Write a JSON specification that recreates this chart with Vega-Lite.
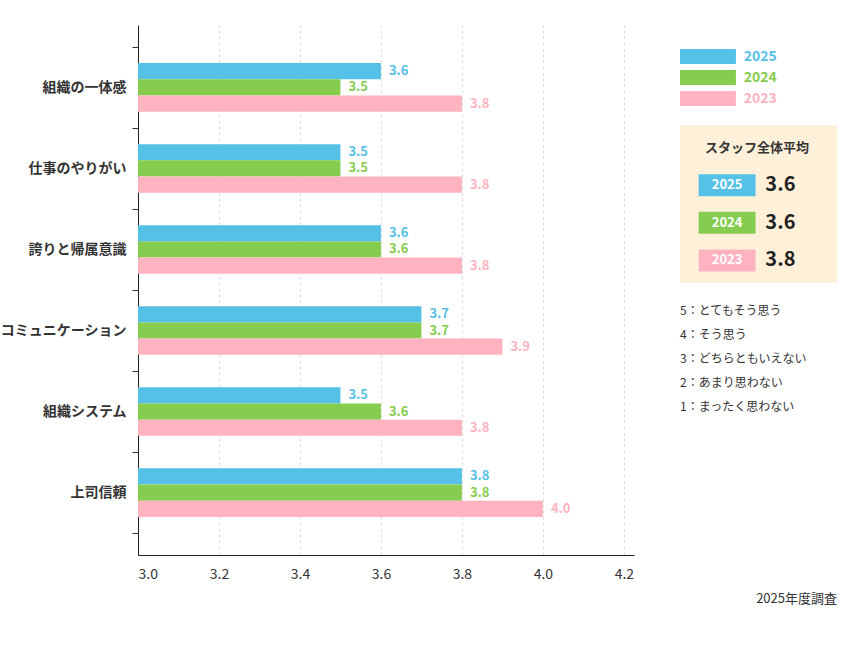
{
  "$schema": "https://vega.github.io/schema/vega-lite/v6.json",
  "padding": {"left": 0, "top": 18, "right": 0, "bottom": 8},
  "background": "white",
  "title": {"text": "2025年度調査", "orient": "bottom", "anchor": "end", "fontSize": 13, "fontWeight": "normal", "color": "#333", "offset": 12},
  "config": {
    "font": "Noto Sans CJK JP",
    "view": {"stroke": null},
    "concat": {"spacing": 46}
  },
  "datasets": {
    "scores": [
      {"item": "組織の一体感", "year": "2025", "score": 3.6},
      {"item": "組織の一体感", "year": "2024", "score": 3.5},
      {"item": "組織の一体感", "year": "2023", "score": 3.8},
      {"item": "仕事のやりがい", "year": "2025", "score": 3.5},
      {"item": "仕事のやりがい", "year": "2024", "score": 3.5},
      {"item": "仕事のやりがい", "year": "2023", "score": 3.8},
      {"item": "誇りと帰属意識", "year": "2025", "score": 3.6},
      {"item": "誇りと帰属意識", "year": "2024", "score": 3.6},
      {"item": "誇りと帰属意識", "year": "2023", "score": 3.8},
      {"item": "コミュニケーション", "year": "2025", "score": 3.7},
      {"item": "コミュニケーション", "year": "2024", "score": 3.7},
      {"item": "コミュニケーション", "year": "2023", "score": 3.9},
      {"item": "組織システム", "year": "2025", "score": 3.5},
      {"item": "組織システム", "year": "2024", "score": 3.6},
      {"item": "組織システム", "year": "2023", "score": 3.8},
      {"item": "上司信頼", "year": "2025", "score": 3.8},
      {"item": "上司信頼", "year": "2024", "score": 3.8},
      {"item": "上司信頼", "year": "2023", "score": 4.0}
    ],
    "avg": [
      {"row": "title", "year": null, "label": "スタッフ全体平均", "value": null},
      {"row": "2025", "year": "2025", "label": "2025", "value": "3.6"},
      {"row": "2024", "year": "2024", "label": "2024", "value": "3.6"},
      {"row": "2023", "year": "2023", "label": "2023", "value": "3.8"}
    ],
    "years": [{"year": "2025"}, {"year": "2024"}, {"year": "2023"}],
    "scale": [
      {"line": "5：とてもそう思う"},
      {"line": "4：そう思う"},
      {"line": "3：どちらともいえない"},
      {"line": "2：あまり思わない"},
      {"line": "1：まったく思わない"}
    ]
  },
  "hconcat": [
    {
      "width": 496,
      "height": 530,
      "data": {"name": "scores"},
      "encoding": {
        "y": {
          "field": "item", "type": "nominal", "sort": null,
          "scale": {"paddingInner": 0, "paddingOuter": 0.27},
          "axis": {"title": null, "labelFontSize": 14, "labelFontWeight": "bold", "labelColor": "#333", "tickBand": "extent", "tickColor": "#333", "tickSize": 6, "domainColor": "#222", "labelPadding": 6}
        },
        "yOffset": {"field": "year", "type": "nominal", "sort": ["2025", "2024", "2023"], "scale": {"paddingInner": 0, "paddingOuter": 1.1}},
        "x": {
          "field": "score", "type": "quantitative",
          "scale": {"domain": [3.0, 4.225], "nice": false, "zero": false},
          "axis": {"title": null, "values": [3.0, 3.2, 3.4, 3.6, 3.8, 4.0, 4.2], "format": ".1f", "labelFontSize": 14, "labelColor": "#333", "ticks": false, "labelPadding": 12, "domainColor": "#222", "grid": true, "gridDash": [3, 3], "gridColor": "#ddd"}
        },
        "color": {
          "field": "year", "type": "nominal",
          "scale": {"domain": ["2025", "2024", "2023"], "range": ["#56c1e6", "#86cc4e", "#ffb3c1"]},
          "legend": null
        }
      },
      "layer": [
        {"mark": {"type": "bar"}, "encoding": {"x2": {"datum": 3.0}}},
        {"mark": {"type": "text", "align": "left", "dx": 8, "fontSize": 13, "fontWeight": "bold"}, "encoding": {"text": {"field": "score", "type": "quantitative", "format": ".1f"}}}
      ]
    },
    {
      "spacing": 16,
      "vconcat": [
        {
          "width": 157, "height": 84,
          "data": {"name": "years"},
          "encoding": {
            "y": {"field": "year", "type": "nominal", "sort": null, "scale": {"domain": ["", "2025", "2024", "2023"]}, "axis": null},
            "color": {"field": "year", "type": "nominal", "scale": {"domain": ["2025", "2024", "2023"], "range": ["#56c1e6", "#86cc4e", "#ffb3c1"]}, "legend": null}
          },
          "layer": [
            {"mark": {"type": "bar", "height": 15}, "encoding": {"x": {"datum": 0, "type": "quantitative", "scale": {"domain": [0, 157]}, "axis": null}, "x2": {"datum": 57}}},
            {"mark": {"type": "text", "align": "left", "fontSize": 14, "fontWeight": "bold"}, "encoding": {"x": {"datum": 65, "type": "quantitative"}, "text": {"field": "year"}}}
          ]
        },
        {
          "width": 157, "height": 158,
          "view": {"fill": "#fff0da", "stroke": null},
          "data": {"name": "avg"},
          "encoding": {
            "y": {"field": "row", "type": "nominal", "sort": null, "scale": {"domain": ["title", "2025", "2024", "2023"], "paddingOuter": 0.1}, "axis": null},
            "color": {"field": "year", "type": "nominal", "scale": {"domain": ["2025", "2024", "2023"], "range": ["#56c1e6", "#86cc4e", "#ffb3c1"]}, "legend": null}
          },
          "layer": [
            {"transform": [{"filter": "datum.row == 'title'"}], "mark": {"type": "text", "fontSize": 13, "fontWeight": "bold"}, "encoding": {"x": {"datum": 78.5, "type": "quantitative", "scale": {"domain": [0, 157]}, "axis": null}, "text": {"field": "label"}, "color": {"value": "#333"}}},
            {"transform": [{"filter": "datum.row != 'title'"}], "mark": {"type": "bar", "height": 22}, "encoding": {"x": {"datum": 19, "type": "quantitative"}, "x2": {"datum": 77}}},
            {"transform": [{"filter": "datum.row != 'title'"}], "mark": {"type": "text", "fontSize": 13, "fontWeight": "bold"}, "encoding": {"x": {"datum": 48, "type": "quantitative"}, "text": {"field": "label"}, "color": {"value": "white"}}},
            {"transform": [{"filter": "datum.row != 'title'"}], "mark": {"type": "text", "align": "left", "fontSize": 20, "fontWeight": "bold"}, "encoding": {"x": {"datum": 87, "type": "quantitative"}, "text": {"field": "value"}, "color": {"value": "#222"}}}
          ]
        },
        {
          "width": 157, "height": 120,
          "data": {"name": "scale"},
          "mark": {"type": "text", "align": "left", "fontSize": 12, "color": "#333", "letterSpacing": 1.5},
          "encoding": {
            "y": {"field": "line", "type": "nominal", "sort": null, "axis": null},
            "x": {"datum": 0, "type": "quantitative", "scale": {"domain": [0, 157]}, "axis": null},
            "text": {"field": "line"}
          }
        }
      ]
    }
  ]
}
